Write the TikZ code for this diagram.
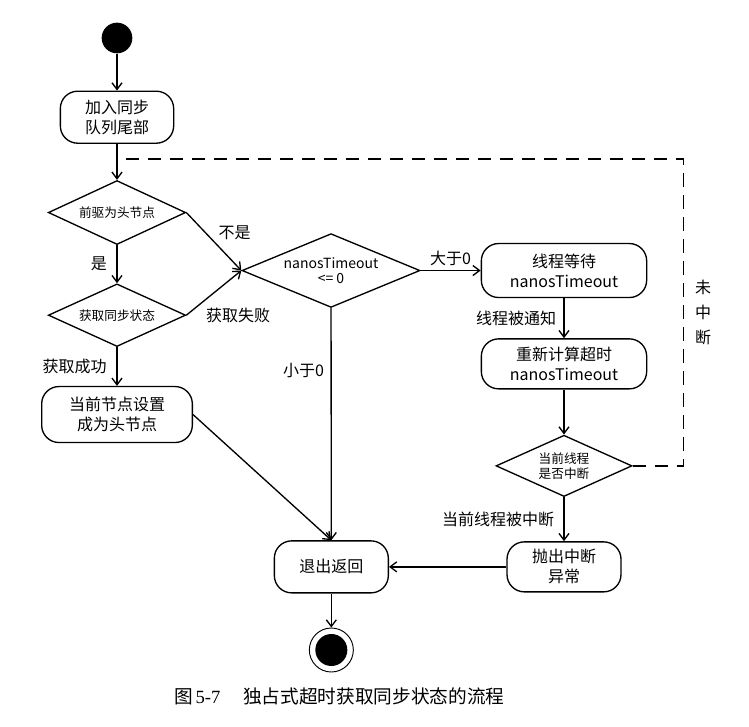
\documentclass[tikz,border=0pt]{standalone}
\usepackage{fontspec}
\setmainfont{Noto Sans CJK SC}
\newfontfamily\capnum{Liberation Serif}
\usetikzlibrary{arrows.meta,positioning,shapes.geometric,calc}

\begin{document}
\begin{tikzpicture}[>={Straight Barb[length=5pt,width=7.5pt]},line width=1pt,
 box/.style={draw,rounded corners=13pt,align=center,inner sep=2pt,
 font=\fontsize{12}{15}\selectfont},
 dec/.style={draw,diamond,aspect=2,inner sep=0pt,align=center,
 font=\fontsize{9.5}{11}\selectfont},
 lbl/.style={font=\fontsize{12}{14}\selectfont},
 brk/.style={draw,dash pattern=on 10pt off 6.5pt},
 every edge/.style={draw,->}]
\useasboundingbox (0,0) rectangle (561.75pt,-545.25pt);
% left column
\node[circle,fill,minimum size=23pt,inner sep=0pt] (start) at (87.75pt,-28.5pt) {};
\node[box,below=27.4pt of start,minimum width=85pt,minimum height=39pt] (join) {加入同步\\队列尾部};
\node[dec,below=27pt of join,minimum width=103pt,minimum height=48pt] (pre) {前驱为头节点};
\node[dec,below=28.5pt of pre,minimum width=103pt,minimum height=47pt] (acq) {获取同步状态};
\node[box,below=29pt of acq,minimum width=113pt,minimum height=42pt] (head) {当前节点设置\\成为头节点};
% timeout check and the waiting loop
\node[dec,right=41.25pt of pre,yshift=-43.5pt,minimum width=133.5pt,minimum height=43pt,
 font=\fontsize{10.5}{11.5}\selectfont] (nanos) {nanosTimeout\\<= 0};
\node[box,right=45pt of nanos,minimum width=124pt,minimum height=40.5pt] (wait) {线程等待\\nanosTimeout};
\node[box,below=30pt of wait,minimum width=124pt,minimum height=37.5pt] (recalc) {重新计算超时\\nanosTimeout};
\node[dec,below=33.75pt of recalc,minimum width=102pt,minimum height=46pt] (intr) {当前线程\\是否中断};
\node[box,below=33pt of intr,minimum width=85.5pt,minimum height=37.5pt] (throw) {抛出中断\\异常};
\node[box,left=88pt of throw,minimum width=85.5pt,minimum height=39pt] (exit) {退出返回};
\node[circle,draw,line width=0.7pt,minimum size=33pt,inner sep=0pt,below=25.5pt of exit] (endpt) {};
\fill (endpt.center) circle (12pt);
\node[below=11pt of endpt,xshift=6pt,inner sep=0pt,font=\fontsize{14}{16}\selectfont] (cap)
 {图\hspace{2pt}{\capnum 5-7}\hspace{17pt}独占式超时获取同步状态的流程};
\coordinate (merge) at ($(join.south)!0.42!(pre.north)$);
\path (start) edge (join)
      (join) edge (pre)
      (pre) edge node[lbl,left=3.7pt] {是} (acq)
      (acq) edge node[lbl,left=4pt] {获取成功} (head)
      (pre.east) edge node[lbl,pos=0.35,right=6pt] {不是} (nanos.west)
      (acq.east) edge node[lbl,pos=0,right=11pt] {获取失败} (nanos.west)
      (nanos) edge node[lbl,pos=0.27,left=1.5pt] {小于0} (exit)
      (nanos) edge node[lbl,above] {大于0} (wait)
      (wait) edge node[lbl,left=2pt] {线程被通知} (recalc)
      (recalc) edge (intr)
      (intr) edge node[lbl,left=3.5pt] {当前线程被中断} (throw)
      (throw) edge (exit)
      (head.east) edge (exit.north)
      (exit) edge (endpt);
% not interrupted: back to the loop
\draw[brk] (intr.east) -- ++(38pt,0) |- node[lbl,pos=0.25,right=5pt,align=center,
 font=\fontsize{12}{18.75}\selectfont] {未\\中\\断} (merge);
\end{tikzpicture}
\end{document}
